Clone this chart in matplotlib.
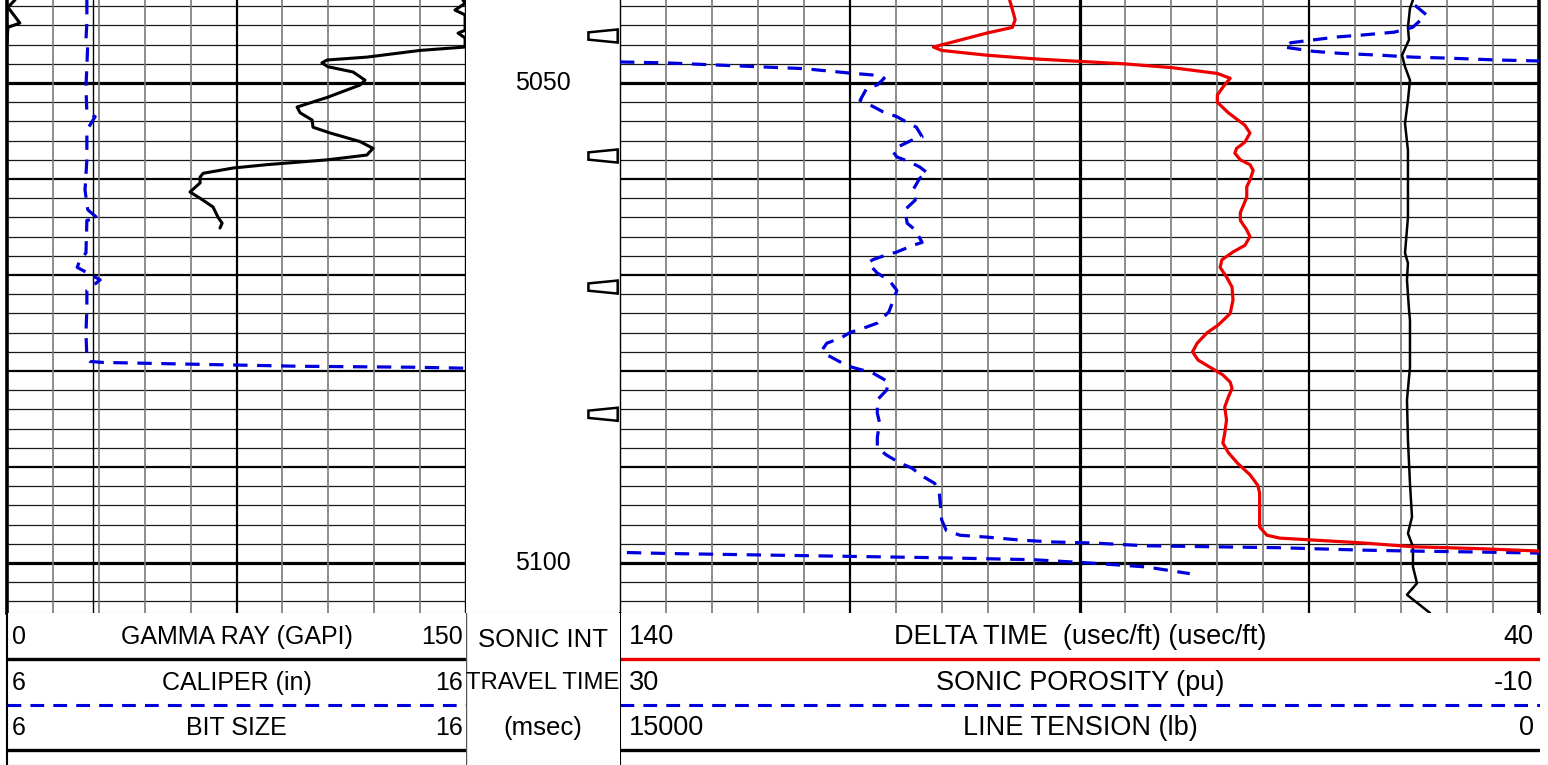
"""
Sonic log depth plot, 5041-5105 ft.

Left track: gamma ray, caliper and bit size. Middle: depth column with the
integrated travel-time ticks. Right track: delta time, sonic porosity and
line tension. The curve header sits under the tracks.
"""

import matplotlib

matplotlib.use("Agg")

import matplotlib.pyplot as plt
from matplotlib.patches import Polygon

W, H, DPI = 1548, 765, 100
TOP_DEPTH, BOTTOM_DEPTH = 5041.35, 5105.2

RED = "#ee0000"
BLUE = "#0000dd"
REG = ["Liberation Sans", "DejaVu Sans"]
NARROW = ["Liberation Sans Narrow", "Liberation Sans", "DejaVu Sans"]

# --- gamma ray (GAPI), 0-150 scale; values over 150 wrap to the backup scale
GR_DEPTH = [5041.35, 5041.7, 5042.4, 5042.9, 5044.5, 5044.8, 5045.3, 5046.25,
            5046.6, 5047.3, 5047.6, 5047.9, 5048.3, 5048.85, 5049.7, 5050.2,
            5051.5, 5052.5, 5053.1, 5053.85, 5054.6, 5055.2, 5056.1, 5056.8,
            5057.5, 5058.0, 5058.5, 5058.85, 5059.4, 5059.8, 5060.4, 5061.35,
            5062.0, 5062.9, 5064.0, 5064.6, 5065.1]
GR = [149.0, 149.7, 146.4, 149.7, 149.7, 147.4, 149.7, 149.7, 135.0, 117.6,
      104.6, 102.9, 104.9, 113.1, 117.0, 115.4, 104.6, 94.8, 95.8, 99.7,
      100.0, 105.6, 115.4, 119.6, 117.6, 104.6, 85.0, 73.9, 64.1, 63.1, 63.1,
      59.8, 63.1, 67.3, 69.0, 70.3, 69.6]
GR_HIGH_DEPTH = [5041.35, 5042.1, 5043.75, 5044.2, 5045.8]
GR_HIGH = [152.6, 150.3, 154.2, 150.3, 150.0]

# --- caliper (in), 6-16 scale
CAL_DEPTH = [5041.35, 5043.75, 5045.5, 5045.8, 5048.3, 5050.4, 5053.1, 5053.5,
             5054.9, 5058.0, 5061.15, 5063.2, 5064.1, 5064.3, 5067.7, 5068.4,
             5069.2, 5070.5, 5071.6, 5073.6, 5076.0, 5078.6, 5079.0, 5079.1,
             5079.3, 5079.5, 5079.6, 5079.7]
CAL = [7.74, 7.74, 7.72, 7.76, 7.74, 7.72, 7.74, 7.92, 7.74, 7.74, 7.70, 7.76,
       7.98, 7.74, 7.72, 7.59, 7.53, 8.03, 7.74, 7.74, 7.72, 7.74, 7.81, 8.09,
       10.2, 12.38, 14.85, 15.98]
BIT_SIZE = 7.875

# --- delta time (usec/ft), 140-40 scale
DT_DEPTH = [5041.35, 5042.7, 5043.4, 5044.2, 5044.8, 5046.25, 5046.6, 5047.1,
            5047.5, 5047.8, 5048.0, 5048.4, 5049.0, 5049.5, 5050.3, 5051.25,
            5052.0, 5053.1, 5054.4, 5055.2, 5056.15, 5056.8, 5057.3, 5058.0,
            5058.5, 5059.1, 5060.1, 5060.8, 5061.9, 5063.5, 5064.3, 5065.3,
            5066.0, 5066.9, 5067.6, 5068.4, 5069.2, 5070.2, 5071.25, 5072.6,
            5074.0, 5075.2, 5076.0, 5077.1, 5078.0, 5078.85, 5079.6, 5080.4,
            5081.15, 5081.8, 5082.7, 5083.75, 5085.1, 5086.5, 5087.5, 5088.5,
            5089.6, 5090.8, 5091.9, 5092.7, 5096.25, 5097.1, 5097.4, 5097.6,
            5097.9, 5098.3, 5098.5, 5098.75]
DT = [97.6, 97.2, 97.0, 97.3, 100.1, 105.9, 105.0, 100.1, 94.6, 88.9, 85.1,
      79.9, 75.0, 73.6, 74.3, 75.0, 75.0, 73.8, 72.0, 71.45, 72.0, 72.9, 73.1,
      72.5, 71.45, 71.1, 71.45, 71.8, 71.8, 72.5, 72.5, 71.8, 71.45, 72.0,
      73.3, 74.5, 74.7, 74.0, 73.4, 73.3, 73.6, 74.9, 76.1, 77.2, 77.7, 77.1,
      75.8, 74.4, 73.6, 73.4, 73.8, 74.2, 74.0, 74.2, 74.4, 73.8, 72.8, 71.45,
      70.6, 70.4, 70.4, 69.6, 68.2, 64.6, 59.2, 53.7, 46.4, 39.9]

# --- sonic porosity (pu), 30 to -10 scale, drawn in three pieces
PHI_TOP_DEPTH = [5041.9, 5042.9, 5044.2, 5044.7, 5045.0, 5045.2, 5045.5,
                 5045.8, 5046.25, 5046.7, 5046.9, 5047.1, 5047.3, 5047.4,
                 5047.6, 5047.7]
PHI_TOP = [-4.6, -5.1, -4.5, -3.7, -2.3, -1.2, -0.2, 0.8, 1.1, -0.2, -1.3,
           -3.1, -4.5, -6.0, -8.2, -10.0]
PHI_DEPTH = [5047.8, 5047.9, 5048.1, 5048.3, 5048.5, 5048.96, 5049.2, 5049.5,
             5050.2, 5050.5, 5051.8, 5052.3, 5053.0, 5053.5, 5054.1, 5054.6,
             5055.6, 5055.9, 5056.7, 5057.2, 5057.7, 5058.2, 5058.75, 5059.4,
             5059.9, 5061.15, 5062.2, 5063.2, 5064.6, 5065.3, 5066.6, 5066.9,
             5067.6, 5067.9, 5068.4, 5068.75, 5069.8, 5070.5, 5071.6, 5072.6,
             5073.85, 5075.0, 5075.4, 5076.0, 5076.5, 5077.1, 5077.8, 5078.3,
             5079.2, 5079.6, 5080.2, 5081.15, 5082.0, 5083.0, 5084.4, 5085.4,
             5086.9, 5088.0, 5088.75, 5089.6, 5090.1, 5091.0, 5091.7, 5092.7,
             5095.5, 5096.6, 5097.1, 5097.3, 5097.6, 5097.8, 5097.9, 5098.2,
             5098.3, 5098.4, 5098.65, 5098.75, 5098.85, 5098.96]
PHI = [30.0, 28.0, 26.0, 24.0, 22.0, 20.0, 18.8, 18.5, 18.8, 19.25, 19.55,
       19.1, 18.55, 17.95, 17.5, 17.1, 16.85, 17.25, 17.95, 18.1, 17.95, 17.4,
       16.95, 16.6, 16.95, 17.25, 17.15, 17.6, 17.5, 17.15, 16.85, 17.25,
       17.95, 18.4, 19.0, 19.2, 18.8, 18.3, 17.95, 18.1, 18.3, 18.8, 19.25,
       20.0, 20.35, 21.0, 21.2, 21.0, 20.3, 19.9, 19.0, 18.3, 18.4, 18.8,
       18.8, 18.7, 18.8, 18.8, 18.4, 17.8, 17.3, 16.8, 16.3, 16.1, 16.0, 15.8,
       15.2, 14.0, 12.6, 11.2, 9.5, 7.1, 4.2, 1.3, -2.3, -4.5, -7.4, -10.0]
# below -10 the curve wraps round onto the backup scale (+40 pu)
PHI_LOW_DEPTH = [5098.9, 5099.0, 5099.15, 5099.3, 5099.45, 5099.65, 5100.0,
                 5100.4, 5101.1]
PHI_LOW = [-10.3, -12.0, -16.0, -20.0, -24.0, -28.0, -30.5, -32.9, -34.8]

# --- line tension (lb), 15000-0 scale
TEN_DEPTH = [5041.35, 5042.2, 5044.2, 5045.5, 5047.1, 5048.3, 5049.7, 5051.8,
             5054.2, 5057.0, 5060.4, 5064.0, 5067.7, 5068.75, 5070.5, 5073.6,
             5074.7, 5079.6, 5083.0, 5087.2, 5091.7, 5095.2, 5096.9, 5098.3,
             5100.4, 5102.1, 5103.3, 5105.2]
TEN = [2057, 2106, 2139, 2122, 2236, 2187, 2106, 2139, 2187, 2139, 2139, 2139,
       2187, 2139, 2155, 2122, 2106, 2106, 2155, 2139, 2106, 2073, 2139, 2057,
       2057, 1991, 2155, 1779]

# --- depth column
DEPTH_LABELS = [5050, 5100]
TT_TICK_DEPTHS = [5045.1, 5057.6, 5071.25, 5084.5]


def px_axes(fig, x0, y0, x1, y1):
    return fig.add_axes((x0 / W, 1 - y1 / H, (x1 - x0) / W, (y1 - y0) / H))


def bare(ax):
    ax.set_xticks([])
    ax.set_yticks([])
    for s in ax.spines.values():
        s.set_visible(False)
    ax.patch.set_visible(False)


def depth_grid(ax):
    for d in range(5042, 5106, 2):
        if d % 50 == 0:
            ax.axhline(d, color="black", lw=2.3, zorder=1)
        elif d % 10 == 0:
            ax.axhline(d, color="black", lw=1.6, zorder=1)
        else:
            ax.axhline(d, color="#1a1a1a", lw=0.9, zorder=1)


def track(fig, rect, xlim, vlines, medium, thick):
    ax = px_axes(fig, *rect)
    ax.set_xlim(*xlim)
    ax.set_ylim(BOTTOM_DEPTH, TOP_DEPTH)
    ax.set_xticks([])
    ax.set_yticks([])
    depth_grid(ax)
    for v in vlines:
        if v in thick:
            ax.axvline(v, color="black", lw=2.3, zorder=1)
        elif v in medium:
            ax.axvline(v, color="black", lw=1.6, zorder=1)
        else:
            ax.axvline(v, color="#7a7a7a", lw=1.2, zorder=1)
    ax.spines["top"].set_visible(False)
    ax.spines["bottom"].set_color("#999999")
    return ax


def twin(ax, xlim):
    tw = ax.twiny()
    tw.set_xlim(*xlim)
    bare(tw)
    return tw


def header(fig, rect, rows, lines, size):
    ax = px_axes(fig, *rect)
    ax.set_xlim(0, 1)
    ax.set_ylim(0, 1)
    ax.set_xticks([])
    ax.set_yticks([])
    for s in ("top", "right"):
        ax.spines[s].set_visible(False)
    ax.spines["left"].set_linewidth(1.5)
    ax.spines["bottom"].set_color("#777777")
    for y, (lo, name, hi) in zip((0.842, 0.539, 0.243), rows):
        kw = dict(fontsize=size, family=NARROW, va="center")
        ax.text(0.01, y, lo, ha="left", **kw)
        ax.text(0.5, y, name, ha="center", **kw)
        ax.text(0.993, y, hi, ha="right", **kw)
    for y, style in zip((0.70, 0.395, 0.10), lines):
        ax.plot([0, 1], [y, y], **style)
    return ax


def main() -> None:
    fig = plt.figure(figsize=(W / DPI, H / DPI), dpi=DPI)
    solid = dict(solid_joinstyle="round", solid_capstyle="round")
    dash = dict(color=BLUE, lw=2.3, ls=(0, (4.5, 3)), dash_joinstyle="round")

    # left track: gamma ray base scale, caliper/bit size on a twin
    ax_gr = track(fig, (7, 0, 466, 613), (0, 150),
                  [15 * i for i in range(1, 10)], medium=[75], thick=[])
    ax_gr.spines["left"].set_linewidth(2.6)
    ax_gr.spines["right"].set_linewidth(2.4)
    ax_gr.plot(GR, GR_DEPTH, color="black", lw=2.2, zorder=3, **solid)
    ax_gr.plot([g - 150 for g in GR_HIGH], GR_HIGH_DEPTH, color="black",
               lw=2.2, zorder=3, **solid)
    ax_cal = twin(ax_gr, (6, 16))
    ax_cal.axvline(BIT_SIZE, color="black", lw=1.0)
    ax_cal.plot(CAL, CAL_DEPTH, **dash)

    # depth column
    ax_mid = px_axes(fig, 466, 0, 620, 613)
    ax_mid.set_xlim(0, 1)
    ax_mid.set_ylim(BOTTOM_DEPTH, TOP_DEPTH)
    ax_mid.set_xticks([])
    ax_mid.set_yticks([])
    for s in ("top", "left", "right"):
        ax_mid.spines[s].set_visible(False)
    ax_mid.spines["bottom"].set_color("#999999")
    for d in DEPTH_LABELS:
        ax_mid.text(0.5, d, str(d), ha="center", va="center", fontsize=18,
                    family=REG)
    for d in TT_TICK_DEPTHS:
        ax_mid.add_patch(Polygon(
            [(0.795, d - 0.38), (0.985, d - 0.68), (0.985, d + 0.68),
             (0.795, d + 0.38)],
            closed=True, facecolor="white", edgecolor="black", lw=1.8))

    # right track: delta time base scale, porosity/tension on twins
    ax_dt = track(fig, (620, 0, 1539, 613), (140, 40),
                  [140 - 5 * i for i in range(1, 20)],
                  medium=[115, 65], thick=[90])
    ax_dt.spines["left"].set_linewidth(1.0)
    ax_dt.spines["right"].set_linewidth(2.6)
    ax_ten = twin(ax_dt, (15000, 0))
    ax_ten.plot(TEN, TEN_DEPTH, color="black", lw=1.8, **solid)
    ax_phi = twin(ax_dt, (30, -10))
    ax_phi.plot(PHI_TOP, PHI_TOP_DEPTH, **dash)
    ax_phi.plot(PHI, PHI_DEPTH, **dash)
    ax_phi.plot([p + 40 for p in PHI_LOW], PHI_LOW_DEPTH, **dash)
    ax_red = twin(ax_dt, (140, 40))
    ax_red.plot(DT, DT_DEPTH, color=RED, lw=2.3, **solid)

    # curve header
    black = dict(color="black", lw=2.4)
    dashed = dict(color=BLUE, lw=2.2, ls=(0, (4.5, 3)))
    header(fig, (7, 613, 466, 765),
           [("0", "GAMMA RAY (GAPI)", "150"),
            ("6", "CALIPER (in)", "16"),
            ("6", "BIT SIZE", "16")],
           [black, dashed, black], size=18)
    header(fig, (620, 613, 1540, 765),
           [("140", "DELTA TIME  (usec/ft) (usec/ft)", "40"),
            ("30", "SONIC POROSITY (pu)", "-10"),
            ("15000", "LINE TENSION (lb)", "0")],
           [dict(color=RED, lw=2.4), dashed, black], size=19.5)

    ax_hm = px_axes(fig, 466, 613, 620, 765)
    bare(ax_hm)
    ax_hm.patch.set_visible(True)
    for y, label, size in ((0.822, "SONIC INT", 18.5),
                           (0.539, "TRAVEL TIME", 17.2),
                           (0.243, "(msec)", 18.5)):
        ax_hm.text(0.5, y, label, ha="center", va="center", fontsize=size,
                   family=REG, transform=ax_hm.transAxes)
    ax_hm.axvline(0.0, color="#555555", lw=1.0)

    fig.savefig("out.png", dpi=DPI)


if __name__ == "__main__":
    main()
